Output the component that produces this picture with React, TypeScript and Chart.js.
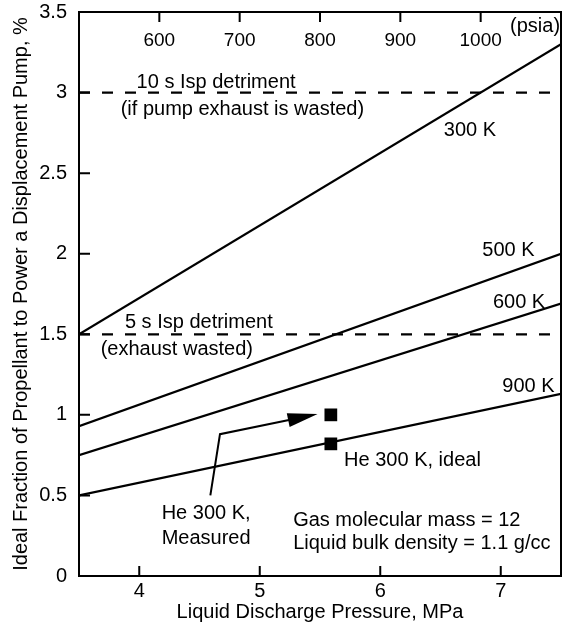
import { useEffect, useRef } from "react";
import { Chart, registerables } from "chart.js";

Chart.register(...registerables);

const FONT = '"Liberation Sans", Arial, Helvetica, sans-serif';

// Axes
const xMin = 3.5;
const xMax = 7.5;
const yMin = 0;
const yMax = 3.5;
const xTicks = [4, 5, 6, 7];
const yTicks = [0, 0.5, 1, 1.5, 2, 2.5, 3, 3.5];
const psiaMin = 500;
const psiaMax = 1100;
const psiaTicks = [600, 700, 800, 900, 1000];

// Series (x = liquid discharge pressure, MPa; y = fraction, %)
const lineEndsX = [3.5, 7.5];
const curve300K = [1.5, 3.3];
const curve500K = [0.93, 2.0];
const curve600K = [0.75, 1.69];
const curve900K = [0.5, 1.13];
const isp10s = [3.0, 3.0];
const isp5s = [1.5, 1.5];

// He 300 K points
const heX = [5.59, 5.59];
const heY = [1.0, 0.82];

// Leader arrow from "He 300 K, Measured" label to measured point
const arrowX = [4.59, 4.67, 5.48];
const arrowY = [0.5, 0.88, 1.005];

// Annotation texts (left, baseline in data coords)
const labelTexts = [
  "10 s Isp detriment",
  "(if pump exhaust is wasted)",
  "300 K",
  "500 K",
  "600 K",
  "900 K",
  "5 s Isp detriment",
  "(exhaust wasted)",
  "He 300 K, ideal",
  "He 300 K,",
  "Measured",
  "Gas molecular mass = 12",
  "Liquid bulk density = 1.1 g/cc",
  "(psia)",
];
const labelX = [3.978, 3.846, 6.527, 6.847, 6.935, 7.013, 3.881, 3.68, 5.7, 4.186, 4.186, 5.277, 5.277, 7.077];
const labelY = [3.03, 2.861, 2.73, 1.987, 1.663, 1.144, 1.539, 1.374, 0.68, 0.351, 0.196, 0.308, 0.166, 3.375];

const toPts = (xs: number[], ys: number[]) => xs.map((x, i) => ({ x, y: ys[i] }));

const zeroPad = (s: any) => {
  s.paddingTop = 0;
  s.paddingBottom = 0;
  s.paddingLeft = 0;
  s.paddingRight = 0;
};

const overlayPlugin = {
  id: "overlay",
  afterDatasetsDraw(chart: any) {
    const { ctx, chartArea: ca, scales } = chart;
    const xs = scales.x;
    const ys = scales.y;
    const ps = scales.psia;
    ctx.save();
    ctx.strokeStyle = "#000";
    ctx.fillStyle = "#000";
    ctx.lineWidth = 2;
    ctx.setLineDash([]);
    // frame
    ctx.strokeRect(ca.left, ca.top, ca.right - ca.left, ca.bottom - ca.top);
    // inward ticks
    ctx.beginPath();
    yTicks.forEach((v) => {
      const py = ys.getPixelForValue(v);
      ctx.moveTo(ca.left, py);
      ctx.lineTo(ca.left + 11, py);
    });
    xTicks.forEach((v) => {
      const px = xs.getPixelForValue(v);
      ctx.moveTo(px, ca.bottom);
      ctx.lineTo(px, ca.bottom - 10);
    });
    psiaTicks.forEach((v) => {
      const px = ps.getPixelForValue(v);
      ctx.moveTo(px, ca.top);
      ctx.lineTo(px, ca.top + 10);
    });
    ctx.stroke();
    // psia labels
    ctx.font = `19px ${FONT}`;
    ctx.textAlign = "center";
    ctx.textBaseline = "alphabetic";
    psiaTicks.forEach((v) => {
      const px = ps.getPixelForValue(v);
      ctx.fillText(String(v), px, ca.top + 34);
    });
    // arrow
    const apx = arrowX.map((v) => xs.getPixelForValue(v));
    const apy = arrowY.map((v) => ys.getPixelForValue(v));
    const n = apx.length;
    const tx = apx[n - 1];
    const ty = apy[n - 1];
    const dx = tx - apx[n - 2];
    const dy = ty - apy[n - 2];
    const len = Math.hypot(dx, dy);
    const ux = dx / len;
    const uy = dy / len;
    const headLen = 30;
    const headHalf = 7;
    const bx = tx - ux * headLen;
    const by = ty - uy * headLen;
    ctx.lineWidth = 2;
    ctx.beginPath();
    ctx.moveTo(apx[0], apy[0]);
    for (let i = 1; i < n - 1; i++) ctx.lineTo(apx[i], apy[i]);
    ctx.lineTo(bx + ux * 2, by + uy * 2);
    ctx.stroke();
    ctx.beginPath();
    ctx.moveTo(tx, ty);
    ctx.lineTo(bx - uy * headHalf, by + ux * headHalf);
    ctx.lineTo(bx + uy * headHalf, by - ux * headHalf);
    ctx.closePath();
    ctx.fill();
    // texts
    ctx.font = `20px ${FONT}`;
    ctx.textAlign = "left";
    ctx.textBaseline = "alphabetic";
    labelTexts.forEach((t, i) => {
      ctx.fillText(t, xs.getPixelForValue(labelX[i]), ys.getPixelForValue(labelY[i]));
    });
    ctx.restore();
  },
};

export default function App() {
  const canvasRef = useRef<HTMLCanvasElement | null>(null);

  useEffect(() => {
    if (!canvasRef.current) return;
    const lineDs = (ys: number[], dash: number[] = []) => ({
      type: "line" as const,
      data: toPts(lineEndsX, ys),
      borderColor: "#000",
      borderWidth: 2.2,
      borderDash: dash,
      pointRadius: 0,
      fill: false,
      tension: 0,
    });
    const chart = new Chart(canvasRef.current, {
      type: "line",
      data: {
        datasets: [
          lineDs(curve300K),
          lineDs(curve500K),
          lineDs(curve600K),
          lineDs(curve900K),
          lineDs(isp10s, [11, 12]),
          lineDs(isp5s, [11, 12]),
          {
            type: "scatter" as const,
            data: toPts(heX, heY),
            pointStyle: "rect",
            pointRadius: 9,
            backgroundColor: "#000",
            borderWidth: 0,
          } as any,
        ],
      },
      options: {
        responsive: false,
        animation: false,
        devicePixelRatio: 1,
        layout: { autoPadding: false, padding: { top: 12, right: 2, left: 0, bottom: 0 } },
        plugins: { legend: { display: false }, tooltip: { enabled: false } },
        scales: {
          x: {
            type: "linear",
            position: "bottom",
            min: xMin,
            max: xMax,
            afterBuildTicks: (s: any) => {
              s.ticks = xTicks.map((v) => ({ value: v }));
            },
            afterFit: (s: any) => {
              s.height = 48;
              zeroPad(s);
            },
            ticks: {
              color: "#000",
              font: { family: FONT, size: 20 },
              padding: 3,
              autoSkip: false,
              maxRotation: 0,
              callback: (v: any) => String(v),
            },
            grid: { display: false, drawTicks: false },
            border: { display: false },
            title: {
              display: true,
              text: "Liquid Discharge Pressure, MPa",
              color: "#000",
              font: { family: FONT, size: 20 },
              padding: 0,
            },
          },
          psia: {
            type: "linear",
            position: "top",
            min: psiaMin,
            max: psiaMax,
            display: false,
            afterFit: (s: any) => {
              zeroPad(s);
            },
          },
          y: {
            type: "linear",
            position: "left",
            min: yMin,
            max: yMax,
            afterBuildTicks: (s: any) => {
              s.ticks = yTicks.map((v) => ({ value: v }));
            },
            afterFit: (s: any) => {
              s.width = 79;
              zeroPad(s);
            },
            ticks: {
              color: "#000",
              font: { family: FONT, size: 20 },
              padding: 12,
              autoSkip: false,
              callback: (v: any) => String(v),
            },
            grid: { display: false, drawTicks: false },
            border: { display: false },
            title: {
              display: true,
              text: "Ideal Fraction of Propellant to Power a Displacement Pump, %",
              color: "#000",
              font: { family: FONT, size: 20 },
              padding: { top: 9, bottom: 0 },
            },
          },
        },
      },
      plugins: [overlayPlugin],
    } as any);
    return () => chart.destroy();
  }, []);

  return (
    <div style={{ position: "fixed", left: 0, top: 0, width: 563, height: 624, background: "#fff" }}>
      <canvas ref={canvasRef} width={563} height={624} style={{ display: "block" }} />
    </div>
  );
}
